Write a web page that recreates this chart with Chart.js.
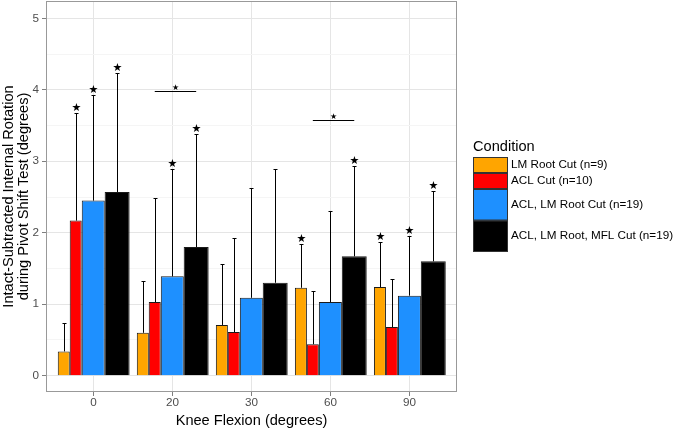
<!DOCTYPE html>
<html>
<head>
<meta charset="utf-8">
<script src="https://cdn.jsdelivr.net/npm/chart.js@4.4.1/dist/chart.umd.min.js"></script>
<style>
  html, body { margin: 0; padding: 0; background: #fff; }
  canvas { display: block; }
</style>
</head>
<body>
<canvas id="c" width="674" height="428"></canvas>
<script>
// ---------- data ----------
const categories = ['0', '20', '30', '60', '90'];
const conditions = ['LM Root Cut (n=9)', 'ACL Cut (n=10)', 'ACL, LM Root Cut (n=19)', 'ACL, LM Root, MFL Cut (n=19)'];

const lmRootMean = [0.34, 0.60, 0.71, 1.23, 1.24];
const lmRootSD   = [0.40, 0.72, 0.85, 0.61, 0.63];
const lmRootSig  = [false, false, false, true, true];

const aclMean = [2.17, 1.03, 0.61, 0.44, 0.68];
const aclSD   = [1.51, 1.45, 1.31, 0.74, 0.67];
const aclSig  = [true, false, false, false, false];

const aclLmMean = [2.45, 1.39, 1.09, 1.03, 1.12];
const aclLmSD   = [1.47, 1.50, 1.53, 1.28, 0.84];
const aclLmSig  = [true, true, false, false, true];

const aclLmMflMean = [2.57, 1.80, 1.30, 1.67, 1.60];
const aclLmMflSD   = [1.66, 1.58, 1.59, 1.27, 0.99];
const aclLmMflSig  = [true, true, false, true, true];

// significance bracket between "ACL Cut" and "ACL, LM Root, MFL Cut" (null = none)
const bracketLevel = [null, 3.98, null, 3.58, null];

const yTicks = [0, 1, 2, 3, 4, 5];

// ---------- style ----------
const colors = ['#FFA500', '#FF0000', '#1E90FF', '#000000'];
const barOffsets = [-0.375, -0.224, -0.002, 0.300];   // in category units
const barWidths  = [0.152, 0.152, 0.291, 0.316];      // in category units
const legendKeyHeights = [16, 16, 31.5, 31.5];
const FONT = '"Liberation Sans", Arial, Helvetica, sans-serif';

const means = [lmRootMean, aclMean, aclLmMean, aclLmMflMean];
const sds   = [lmRootSD, aclSD, aclLmSD, aclLmMflSD];
const sigs  = [lmRootSig, aclSig, aclLmSig, aclLmMflSig];

const datasets = conditions.map((label, k) => ({
  label,
  data: means[k].map((v, i) => ({ x: i, y: v })),
  xAxisID: 'x' + k,
  backgroundColor: colors[k],
  borderColor: '#1a1a1a',
  borderWidth: 1,
  grouped: false,
  categoryPercentage: 1,
  barPercentage: barWidths[k]
}));

const catTicks = s => { s.ticks = categories.map((c, i) => ({ value: i })); };

const scales = {
  x: {
    type: 'linear', axis: 'x', position: 'bottom',
    offset: false,
    min: -0.6, max: 4.6,
    afterBuildTicks: catTicks,
    afterFit: s => { s.height = 36; s.paddingLeft = 0; s.paddingRight = 0; },
    border: { display: false },
    grid: { offset: false, color: '#e5e5e5', lineWidth: 1, drawTicks: true, tickLength: 4, tickColor: '#7f7f7f' },
    ticks: {
      autoSkip: false, maxRotation: 0, minRotation: 0, padding: 0,
      color: '#4d4d4d', font: { family: FONT, size: 11.7, lineHeight: 1.2 },
      callback: v => (categories[v] !== undefined ? categories[v] : '')
    },
    title: {
      display: true, text: 'Knee Flexion (degrees)', color: '#000',
      font: { family: FONT, size: 14.6, lineHeight: 1.0 }, padding: 0
    }
  },
  y: {
    type: 'linear', position: 'left',
    min: -0.228, max: 5.242,
    afterBuildTicks: s => {
      const t = [];
      yTicks.forEach((v, i) => { t.push({ value: v }); if (i < yTicks.length - 1) t.push({ value: (v + yTicks[i + 1]) / 2 }); });
      s.ticks = t;
    },
    afterFit: s => { s.width = 46; s.paddingTop = 0; s.paddingBottom = 0; },
    border: { display: false },
    grid: {
      color: c => (c.tick && Number.isInteger(c.tick.value) ? '#e5e5e5' : '#f5f5f5'),
      lineWidth: 1, drawTicks: true, tickLength: 4,
      tickColor: c => (c.tick && Number.isInteger(c.tick.value) ? '#7f7f7f' : 'rgba(0,0,0,0)')
    },
    ticks: {
      autoSkip: false, padding: 3, color: '#4d4d4d',
      font: { family: FONT, size: 11.7 },
      callback: v => (Number.isInteger(v) ? String(v) : '')
    },
    title: {
      display: true,
      text: ['Intact-Subtracted Internal Rotation', 'during Pivot Shift Test (degrees)'],
      color: '#000', font: { family: FONT, size: 14.6, lineHeight: 1.06 },
      padding: { top: 0.8, bottom: 0 }
    }
  }
};
barOffsets.forEach((off, k) => {
  scales['x' + k] = {
    type: 'linear', axis: 'x', position: 'bottom', display: false,
    offset: false, grid: { offset: false },
    min: -0.6 - off, max: 4.6 - off,
    afterBuildTicks: catTicks
  };
});

const overlay = {
  id: 'overlay',
  afterDatasetsDraw(chart) {
    const ctx = chart.ctx;
    const y = chart.scales.y;
    ctx.save();
    ctx.strokeStyle = '#000';
    ctx.fillStyle = '#000';
    ctx.lineWidth = 1;
    means.forEach((m, k) => {
      const meta = chart.getDatasetMeta(k);
      meta.data.forEach((bar, i) => {
        const x = Math.round(bar.x) + 0.5;
        const base = y.getPixelForValue(m[i]);
        const top = Math.round(y.getPixelForValue(m[i] + sds[k][i])) + 0.5;
        ctx.beginPath();
        ctx.moveTo(x, base);
        ctx.lineTo(x, top);
        ctx.moveTo(x - 2, top);
        ctx.lineTo(x + 2, top);
        ctx.stroke();
        if (sigs[k][i]) {
          ctx.font = '11px "DejaVu Sans"';
          ctx.textAlign = 'center';
          ctx.textBaseline = 'alphabetic';
          ctx.fillText('\u2605', x, top - 3);
        }
      });
    });
    // significance brackets
    const m1 = chart.getDatasetMeta(1), m3 = chart.getDatasetMeta(3);
    bracketLevel.forEach((lvl, i) => {
      if (lvl === null) return;
      const x1 = m1.data[i].x, x2 = m3.data[i].x;
      const yy = Math.round(y.getPixelForValue(lvl)) + 0.5;
      ctx.beginPath();
      ctx.moveTo(x1, yy);
      ctx.lineTo(x2, yy);
      ctx.stroke();
      ctx.font = '8px "DejaVu Sans"';
      ctx.textAlign = 'center';
      ctx.textBaseline = 'alphabetic';
      ctx.fillText('\u2605', (x1 + x2) / 2, yy - 2);
    });
    // panel border
    const a = chart.chartArea;
    ctx.strokeStyle = '#999';
    ctx.strokeRect(a.left + 0.5, a.top + 0.5, a.right - a.left - 1, a.bottom - a.top - 1);
    ctx.restore();
  },
  afterDraw(chart) {
    const ctx = chart.ctx;
    const a = chart.chartArea;
    const lx = a.right + 16;
    ctx.save();
    ctx.textAlign = 'left';
    ctx.textBaseline = 'middle';
    ctx.fillStyle = '#000';
    ctx.font = '14.6px ' + FONT;
    ctx.fillText('Condition', lx, 147);
    let yk = 157;
    conditions.forEach((c, k) => {
      const h = legendKeyHeights[k];
      ctx.fillStyle = colors[k];
      ctx.fillRect(lx, yk, 35, h);
      ctx.strokeStyle = '#333';
      ctx.lineWidth = 1;
      ctx.strokeRect(lx + 0.5, yk + 0.5, 34, h - 1);
      ctx.fillStyle = '#000';
      ctx.font = '11.7px ' + FONT;
      ctx.fillText(c, lx + 38, yk + h / 2);
      yk += h;
    });
    ctx.restore();
  }
};

new Chart(document.getElementById('c'), {
  type: 'bar',
  data: { datasets },
  options: {
    responsive: false,
    animation: false,
    devicePixelRatio: 1,
    layout: { padding: { top: 1, right: 217, left: 0, bottom: 0 } },
    plugins: { legend: { display: false }, tooltip: { enabled: false } },
    scales
  },
  plugins: [overlay]
});
</script>
</body>
</html>
